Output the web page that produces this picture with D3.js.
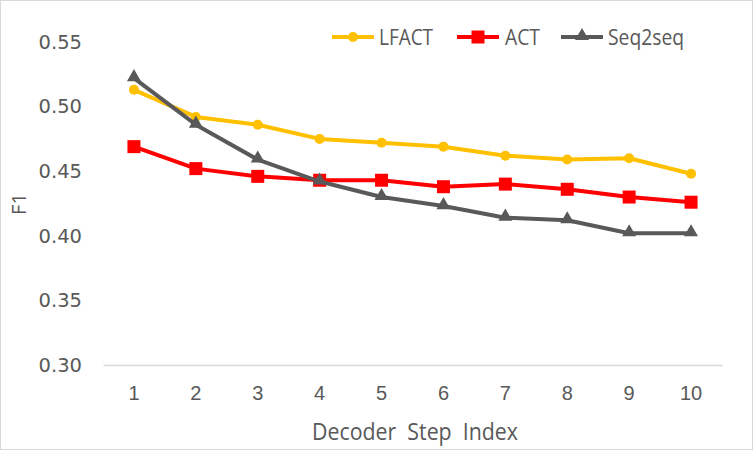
<!DOCTYPE html>
<html><head><meta charset="utf-8">
<script src="https://cdn.jsdelivr.net/npm/d3@7"></script>
<style>body{margin:0;background:#fff}svg{display:block;font-family:"Open Sans",sans-serif}</style>
</head><body>
<script>
const categories = ["1","2","3","4","5","6","7","8","9","10"];
const lfact = [0.513,0.492,0.486,0.475,0.472,0.469,0.462,0.459,0.460,0.448];
const act = [0.469,0.452,0.446,0.443,0.443,0.438,0.440,0.436,0.430,0.426];
const seq2seq = [0.522,0.486,0.459,0.442,0.430,0.423,0.414,0.412,0.402,0.402];
const yTicks = [0.30,0.35,0.40,0.45,0.50,0.55];
const seriesNames = ["LFACT","ACT","Seq2seq"];

const W=753,H=450;
const svg=d3.select("body").append("svg").attr("width",W).attr("height",H);
svg.append("rect").attr("x",0.5).attr("y",0.5).attr("width",W-1).attr("height",H-1).attr("fill","#fff").attr("stroke","#d9d9d9");

const x=d3.scaleBand().domain(categories).range([103,722]);
const y=d3.scaleLinear().domain([0.30,0.55]).range([365,42]);

const gy=svg.append("g").attr("transform","translate(103,0)")
  .call(d3.axisLeft(y).tickValues(yTicks).tickFormat(d3.format(".2f")).tickSize(0).tickPadding(21));
gy.select(".domain").remove();
gy.selectAll("text").attr("fill","#595959").style("font-family","DejaVu Sans").style("font-size","19.5px");

const gx=svg.append("g").attr("transform","translate(0,365)")
  .call(d3.axisBottom(x).tickSize(0).tickPadding(0));
gx.select(".domain").attr("stroke","#d9d9d9").attr("stroke-width",1.3);
gx.selectAll("text").attr("fill","#595959").attr("dy",null).attr("y",35).style("font-size","20px");

svg.append("text").attr("x",312).attr("y",440).attr("fill","#595959")
  .attr("textLength",206).attr("lengthAdjust","spacingAndGlyphs")
  .style("font-size","23px").style("word-spacing","6px").text("Decoder Step Index");
svg.append("text").attr("transform","translate(26,204) rotate(-90)").attr("text-anchor","middle").attr("fill","#595959")
  .style("font-size","20px").text("F1");

const cx=d=>x(d)+x.bandwidth()/2;
const series=[
  {name:seriesNames[0],vals:lfact,color:"#ffc000",shape:"circle"},
  {name:seriesNames[1],vals:act,color:"#ff0000",shape:"square"},
  {name:seriesNames[2],vals:seq2seq,color:"#595959",shape:"triangle"}
];
const line=d3.line().x((d,i)=>cx(categories[i])).y(d=>y(d));
function marker(g,shape,color,px,py){
  if(shape==="circle") g.append("circle").attr("cx",px).attr("cy",py).attr("r",5).attr("fill",color);
  else if(shape==="square") g.append("rect").attr("x",px-6.5).attr("y",py-6.5).attr("width",13).attr("height",13).attr("fill",color);
  else g.append("path").attr("d",d3.symbol(d3.symbolTriangle,85)()).attr("transform",`translate(${px},${py-1})`).attr("fill",color);
}
series.forEach(s=>{
  svg.append("path").datum(s.vals).attr("d",line).attr("fill","none").attr("stroke",s.color).attr("stroke-width",4).attr("stroke-linejoin","round");
  const g=svg.append("g");
  s.vals.forEach((v,i)=>marker(g,s.shape,s.color,cx(categories[i]),y(v)));
});

const legX=[332,457,561];
const legTextX=[379,505,608];
const legTextW=[54,35,76];
series.forEach((s,i)=>{
  const g=svg.append("g");
  g.append("line").attr("x1",legX[i]).attr("x2",legX[i]+42).attr("y1",37).attr("y2",37).attr("stroke",s.color).attr("stroke-width",4);
  marker(g,s.shape,s.color,legX[i]+21,37);
  g.append("text").attr("x",legTextX[i]).attr("y",45).attr("fill","#595959")
    .attr("textLength",legTextW[i]).attr("lengthAdjust","spacingAndGlyphs")
    .style("font-size","22px").text(s.name);
});
</script>
</body></html>
